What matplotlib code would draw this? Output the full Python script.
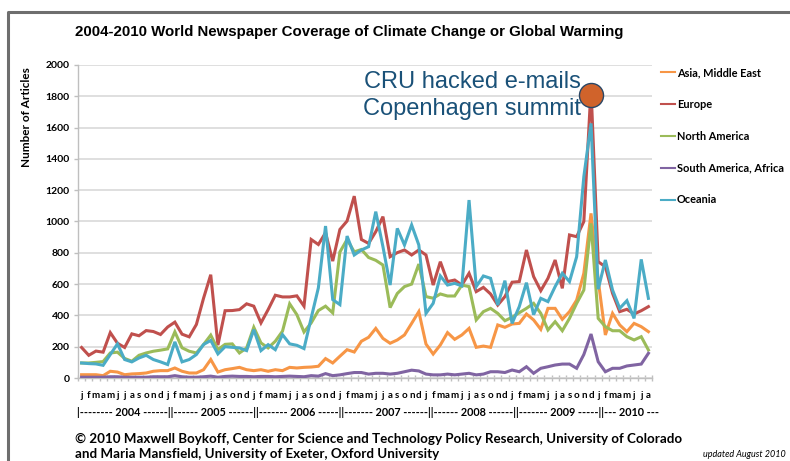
import matplotlib
matplotlib.use("Agg")
import matplotlib.pyplot as plt
from matplotlib.lines import Line2D

W, H = 790, 461

series_names = ["Asia, Middle East", "Europe", "North America",
                "South America, Africa", "Oceania"]
series_colors = ["#F79646", "#C0504D", "#9BBB59", "#8064A2", "#4BACC6"]

asia = [21, 21, 21, 15, 43, 38, 21, 26, 28, 32, 43, 47, 47, 64, 43, 32, 32, 53, 118, 38,
        53, 60, 68, 53, 47, 53, 43, 53, 47, 68, 64, 68, 70, 75, 124, 96, 139, 181, 166, 235,
        260, 317, 253, 222, 243, 275, 349, 424, 217, 153, 211, 290, 247, 275, 317, 196, 204, 196, 339, 324,
        345, 349, 409, 371, 311, 445, 445, 375, 424, 498, 669, 1052, 626, 275, 413, 339, 296, 349, 328, 296]
europe = [195, 145, 172, 165, 290, 222, 195, 282, 270, 303, 297, 278, 326, 357, 280, 263, 342, 510, 660, 210,
          430, 431, 437, 474, 459, 352, 437, 529, 518, 518, 525, 459, 885, 853, 928, 747, 949, 1003, 1162, 885,
          860, 935, 1031, 775, 801, 818, 786, 818, 786, 594, 743, 616, 626, 594, 669, 552, 579, 537, 466, 520,
          612, 616, 818, 648, 558, 637, 754, 573, 914, 903, 1000, 1850, 743, 711, 541, 424, 439, 409, 430, 456]
north_america = [96, 96, 100, 105, 160, 165, 125, 107, 145, 160, 171, 178, 186, 295, 193, 171, 160, 214, 274, 182,
                 215, 218, 160, 192, 324, 224, 192, 235, 299, 474, 405, 294, 352, 431, 459, 416, 805, 885, 806, 821,
                 770, 752, 722, 450, 540, 584, 600, 728, 520, 510, 537, 524, 524, 594, 584, 371, 424, 445, 413, 366,
                 388, 417, 445, 477, 413, 307, 360, 302, 381, 477, 562, 988, 381, 328, 302, 302, 264, 243, 264, 179]
south_america = [5, 5, 5, 5, 8, 8, 5, 5, 5, 5, 8, 8, 8, 15, 8, 5, 5, 8, 12, 5,
                 10, 12, 10, 10, 8, 10, 10, 8, 10, 12, 10, 8, 15, 12, 28, 15, 20, 28, 35, 35,
                 25, 30, 30, 25, 30, 40, 50, 45, 25, 20, 20, 25, 20, 25, 30, 20, 25, 40, 40, 35,
                 51, 40, 72, 30, 62, 72, 83, 89, 89, 62, 150, 281, 104, 40, 62, 62, 77, 83, 89, 158]
oceania = [96, 92, 90, 81, 150, 218, 118, 103, 128, 145, 118, 103, 86, 231, 103, 118, 150, 214, 240, 154,
           200, 196, 192, 175, 309, 175, 213, 181, 277, 218, 209, 188, 384, 576, 971, 501, 469, 907, 786, 818,
           839, 1063, 839, 594, 956, 850, 978, 850, 413, 477, 652, 594, 605, 588, 1137, 584, 652, 637, 466, 622,
           349, 456, 609, 405, 509, 488, 584, 669, 616, 775, 1287, 1627, 567, 754, 562, 445, 494, 381, 758, 509]

series_values = [asia, europe, north_america, south_america, oceania]

month_letters = list("jfmamjjasond") * 6 + list("jfmamjja")
year_row = ("|-------- 2004 ------||------ 2005 ------||------- 2006 -----||"
            "------- 2007 ------||------ 2008 ------||------- 2009 -----||--- 2010 ---")
y_ticks = list(range(0, 2001, 200))

title = "2004-2010 World Newspaper Coverage of Climate Change or Global Warming"
ylabel = "Number of Articles"
event_lines = ["CRU hacked e-mails", "Copenhagen summit"]
event_month = 71
event_value = 1810
credit1 = ("\u00a9 2010 Maxwell Boykoff, Center for Science and Technology Policy Research, "
           "University of Colorado")
credit2 = "and Maria Mansfield, University of Exeter, Oxford University"
updated = "updated August 2010"

BODY = ["Lato", "DejaVu Sans"]
HEAD = ["Liberation Sans", "DejaVu Sans"]

fig = plt.figure(figsize=(W / 100, H / 100), dpi=100)
fig.patch.set_facecolor("white")

def fx(px):
    return px / W

def fy(py):
    return 1 - py / H

ax = fig.add_axes([fx(78), fy(378), fx(652) - fx(78), fy(65) - fy(378)])

n = len(europe)
xs = list(range(n))
for name, col, vals in zip(series_names, series_colors, series_values):
    ax.plot(xs, vals, color=col, lw=2.2, label=name, solid_joinstyle="miter", zorder=3)

ax.set_xlim(-0.5, n - 0.5)
ax.set_ylim(0, 2000)
ax.set_yticks(y_ticks)
ax.set_yticklabels([str(v) for v in y_ticks], fontfamily=BODY, fontsize=7.5, fontweight="bold")
ax.yaxis.grid(True, color="#D9D9D9", lw=1.2, zorder=0)
ax.set_axisbelow(True)
ax.tick_params(axis="y", length=3, width=1, color="#BFBFBF", pad=3)

ax.set_xticks(xs)
ax.set_xticklabels(month_letters, fontfamily=BODY, fontsize=7, fontweight="bold")
ax.tick_params(axis="x", which="major", length=0, pad=9)
ax.set_xticks([i - 0.5 for i in range(n + 1)], minor=True)
ax.tick_params(axis="x", which="minor", length=4, width=1, color="#BFBFBF", direction="inout")

for s in ["top", "right"]:
    ax.spines[s].set_visible(False)
for s in ["left", "bottom"]:
    ax.spines[s].set_color("#BFBFBF")
    ax.spines[s].set_linewidth(1.0)

# event marker
ax.scatter([event_month], [event_value], s=300, color="#D0632B", edgecolor="#2A4766",
           linewidth=1.0, zorder=5, clip_on=False)
fig.text(fx(581), fy(82), event_lines[0], ha="right", va="center", fontsize=17,
         color="#1A5178", fontfamily=HEAD)
fig.text(fx(581), fy(109), event_lines[1], ha="right", va="center", fontsize=17,
         color="#1A5178", fontfamily=HEAD)

# legend
leg = ax.legend(loc="upper left", bbox_to_anchor=(fx(661), fy(67)),
                bbox_transform=fig.transFigure, frameon=False,
                prop={"family": BODY, "size": 7.9, "weight": "bold"},
                handlelength=1.3, handletextpad=0.15, labelspacing=1.9,
                borderaxespad=0, borderpad=0)
for h in leg.get_lines():
    h.set_linewidth(1.5)

# texts
fig.text(fx(75), fy(32), title, ha="left", va="center", fontsize=10.8,
         fontweight="bold", fontfamily=HEAD)
fig.text(fx(27), fy(117), ylabel, ha="center", va="center", rotation=90,
         fontsize=8.5, fontfamily=BODY, fontweight="bold")
fig.text(fx(77), fy(412), year_row, ha="left", va="center", fontsize=7.8,
         fontfamily=BODY, fontweight="bold")
fig.text(fx(75), fy(439), credit1, ha="left", va="center", fontsize=9.65,
         fontfamily=BODY, fontweight="bold")
fig.text(fx(75), fy(454), credit2, ha="left", va="center", fontsize=9.65,
         fontfamily=BODY, fontweight="bold")
fig.text(fx(703), fy(454), updated, ha="left", va="center", fontsize=6.5,
         fontfamily=BODY, style="italic")

# frame
fig.add_artist(Line2D([fx(8), fx(8), 1.0], [0.0, fy(12), fy(12)],
                      transform=fig.transFigure, color="#6E6E6E", lw=2.2))

fig.savefig("out.png", dpi=100, facecolor="white")
